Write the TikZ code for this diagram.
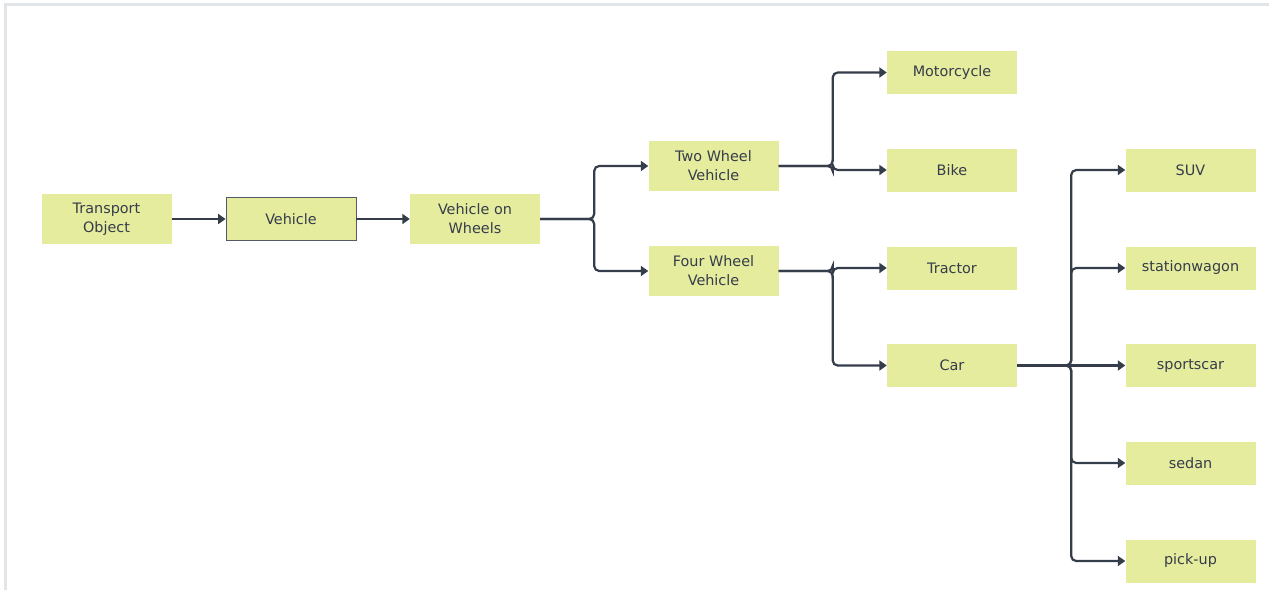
\documentclass[tikz,border=0pt]{standalone}
\usepackage{fontspec}
\setmainfont{DejaVu Sans}
\usepackage{xcolor}
\usetikzlibrary{arrows.meta}
\definecolor{boxfill}{HTML}{E6EC9E}
\definecolor{ink}{HTML}{353D4A}
\definecolor{frame}{HTML}{E1E5E8}

\begin{document}
\begin{tikzpicture}[
    x=1pt, y=-1pt,
    box/.style={fill=boxfill, text=ink, minimum width=130pt, minimum height=43pt, inner sep=0pt, align=center, font=\fontsize{14.4}{19}\selectfont},
    tall/.style={box, minimum height=50pt},
    arr/.style={-{Triangle[length=7.5pt,width=10pt]}, line width=2.2pt, draw=ink, rounded corners=5pt},
]
    \useasboundingbox (0,0) rectangle (1269,590);
    \draw[frame, line width=3pt] (5.5,590) -- (5.5,4.5) -- (1269,4.5);

    % Root chain
    \node[tall] (transport) at (106.5, 219) {Transport\\Object};
    \node[box, draw=ink!85, line width=0.8pt] (vehicle) at (291, 219) {Vehicle};
    \node[tall] (wheels) at (475, 219) {Vehicle on\\Wheels};

    % Wheel count
    \node[tall] (twowheel) at (713.5, 166) {Two Wheel\\Vehicle};
    \node[tall] (fourwheel) at (713.5, 271) {Four Wheel\\Vehicle};

    % Two wheel branch
    \node[box] (motorcycle) at (952, 72.5) {Motorcycle};
    \node[box] (bike) at (952, 170) {Bike};

    % Four wheel branch
    \node[box] (tractor) at (952, 268) {Tractor};
    \node[box] (car) at (952, 365.5) {Car};

    % Car types
    \node[box] (suv) at (1190.5, 170) {SUV};
    \node[box] (wagon) at (1190.5, 268) {stationwagon};
    \node[box] (sports) at (1190.5, 365.5) {sportscar};
    \node[box] (sedan) at (1190.5, 463) {sedan};
    \node[box] (pickup) at (1190.5, 561) {pick-up};

    % Arrows
    \draw[arr] (transport) -- (vehicle);
    \draw[arr] (vehicle) -- (wheels);
    \draw[arr] (wheels.east) -- ++(54,0) |- (twowheel.west);
    \draw[arr] (wheels.east) -- ++(54,0) |- (fourwheel.west);
    \draw[arr] (twowheel.east) -- ++(54,0) |- (motorcycle.west);
    \draw[arr] (twowheel.east) -- ++(54,0) |- (bike.west);
    \draw[arr] (fourwheel.east) -- ++(54,0) |- (tractor.west);
    \draw[arr] (fourwheel.east) -- ++(54,0) |- (car.west);
    \draw[arr] (car.east) -- ++(54,0) |- (suv.west);
    \draw[arr] (car.east) -- ++(54,0) |- (wagon.west);
    \draw[arr] (car.east) -- (sports.west);
    \draw[arr] (car.east) -- ++(54,0) |- (sedan.west);
    \draw[arr] (car.east) -- ++(54,0) |- (pickup.west);
\end{tikzpicture}
\end{document}
